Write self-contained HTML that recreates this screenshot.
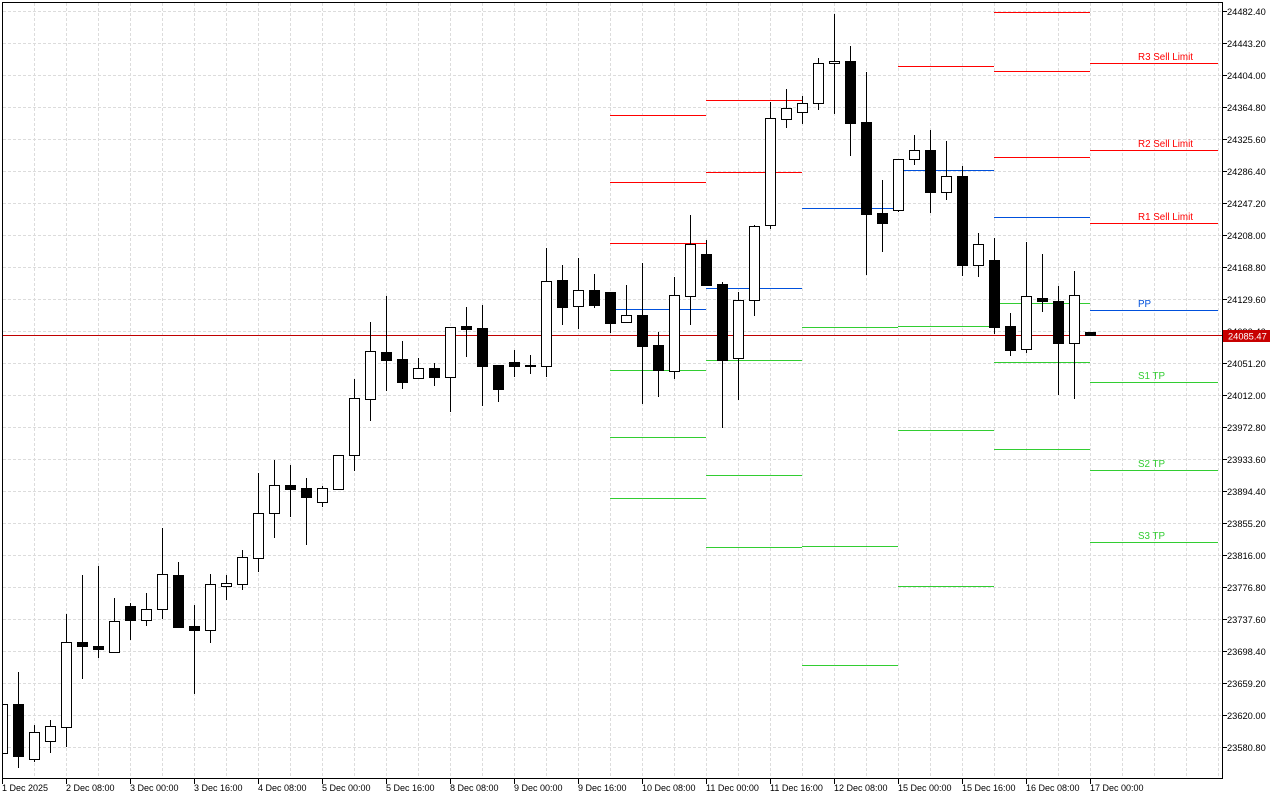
<!DOCTYPE html>
<html><head><meta charset="utf-8"><style>
html,body{margin:0;padding:0;background:#fff;width:1280px;height:800px;overflow:hidden}
svg{display:block}
text{font-family:"Liberation Sans",sans-serif}
.g line{stroke:#dcdcdc;stroke-width:1;stroke-dasharray:3,2}
.c line{stroke:#000;stroke-width:1}
.c rect{stroke:#000;stroke-width:1}
.w{fill:#fff}.b{fill:#000}
.r{stroke:#ff0000;stroke-width:1}
.p{stroke:#0050dc;stroke-width:1}
.s{stroke:#32cd32;stroke-width:1}
.ax text{font-size:9.3px;fill:#000}
.tx text{font-size:9px;fill:#000}
</style></head><body>
<svg width="1280" height="800" viewBox="0 0 1280 800" xmlns="http://www.w3.org/2000/svg">
<rect x="0" y="0" width="1280" height="800" fill="#fff"/>
<defs><clipPath id="pa"><rect x="2" y="2" width="1220" height="776"/></clipPath></defs>
<g class="g">
<line x1="3" y1="11.5" x2="1222" y2="11.5"/><line x1="3" y1="43.5" x2="1222" y2="43.5"/><line x1="3" y1="75.5" x2="1222" y2="75.5"/><line x1="3" y1="107.5" x2="1222" y2="107.5"/><line x1="3" y1="139.5" x2="1222" y2="139.5"/><line x1="3" y1="171.5" x2="1222" y2="171.5"/><line x1="3" y1="203.5" x2="1222" y2="203.5"/><line x1="3" y1="235.5" x2="1222" y2="235.5"/><line x1="3" y1="267.5" x2="1222" y2="267.5"/><line x1="3" y1="299.5" x2="1222" y2="299.5"/><line x1="3" y1="331.5" x2="1222" y2="331.5"/><line x1="3" y1="363.5" x2="1222" y2="363.5"/><line x1="3" y1="395.5" x2="1222" y2="395.5"/><line x1="3" y1="427.5" x2="1222" y2="427.5"/><line x1="3" y1="459.5" x2="1222" y2="459.5"/><line x1="3" y1="491.5" x2="1222" y2="491.5"/><line x1="3" y1="523.5" x2="1222" y2="523.5"/><line x1="3" y1="555.5" x2="1222" y2="555.5"/><line x1="3" y1="587.5" x2="1222" y2="587.5"/><line x1="3" y1="619.5" x2="1222" y2="619.5"/><line x1="3" y1="651.5" x2="1222" y2="651.5"/><line x1="3" y1="683.5" x2="1222" y2="683.5"/><line x1="3" y1="715.5" x2="1222" y2="715.5"/><line x1="3" y1="747.5" x2="1222" y2="747.5"/>
<line x1="34.5" y1="3" x2="34.5" y2="778"/><line x1="66.5" y1="3" x2="66.5" y2="778"/><line x1="98.5" y1="3" x2="98.5" y2="778"/><line x1="130.5" y1="3" x2="130.5" y2="778"/><line x1="162.5" y1="3" x2="162.5" y2="778"/><line x1="194.5" y1="3" x2="194.5" y2="778"/><line x1="226.5" y1="3" x2="226.5" y2="778"/><line x1="258.5" y1="3" x2="258.5" y2="778"/><line x1="290.5" y1="3" x2="290.5" y2="778"/><line x1="322.5" y1="3" x2="322.5" y2="778"/><line x1="354.5" y1="3" x2="354.5" y2="778"/><line x1="386.5" y1="3" x2="386.5" y2="778"/><line x1="418.5" y1="3" x2="418.5" y2="778"/><line x1="450.5" y1="3" x2="450.5" y2="778"/><line x1="482.5" y1="3" x2="482.5" y2="778"/><line x1="514.5" y1="3" x2="514.5" y2="778"/><line x1="546.5" y1="3" x2="546.5" y2="778"/><line x1="578.5" y1="3" x2="578.5" y2="778"/><line x1="610.5" y1="3" x2="610.5" y2="778"/><line x1="642.5" y1="3" x2="642.5" y2="778"/><line x1="674.5" y1="3" x2="674.5" y2="778"/><line x1="706.5" y1="3" x2="706.5" y2="778"/><line x1="738.5" y1="3" x2="738.5" y2="778"/><line x1="770.5" y1="3" x2="770.5" y2="778"/><line x1="802.5" y1="3" x2="802.5" y2="778"/><line x1="834.5" y1="3" x2="834.5" y2="778"/><line x1="866.5" y1="3" x2="866.5" y2="778"/><line x1="898.5" y1="3" x2="898.5" y2="778"/><line x1="930.5" y1="3" x2="930.5" y2="778"/><line x1="962.5" y1="3" x2="962.5" y2="778"/><line x1="994.5" y1="3" x2="994.5" y2="778"/><line x1="1026.5" y1="3" x2="1026.5" y2="778"/><line x1="1058.5" y1="3" x2="1058.5" y2="778"/><line x1="1090.5" y1="3" x2="1090.5" y2="778"/><line x1="1122.5" y1="3" x2="1122.5" y2="778"/><line x1="1154.5" y1="3" x2="1154.5" y2="778"/><line x1="1186.5" y1="3" x2="1186.5" y2="778"/><line x1="1218.5" y1="3" x2="1218.5" y2="778"/>
</g>
<!-- pivot lines -->
<g>
<line class="r" x1="610" y1="115.5" x2="706" y2="115.5"/><line class="r" x1="610" y1="182.5" x2="706" y2="182.5"/><line class="r" x1="610" y1="243.5" x2="706" y2="243.5"/><line class="p" x1="610" y1="309.5" x2="706" y2="309.5"/><line class="s" x1="610" y1="370.5" x2="706" y2="370.5"/><line class="s" x1="610" y1="437.5" x2="706" y2="437.5"/><line class="s" x1="610" y1="498.5" x2="706" y2="498.5"/>
<line class="r" x1="706" y1="100.5" x2="802" y2="100.5"/><line class="r" x1="706" y1="172.5" x2="802" y2="172.5"/><line class="p" x1="706" y1="288.5" x2="802" y2="288.5"/><line class="s" x1="706" y1="360.5" x2="802" y2="360.5"/><line class="s" x1="706" y1="475.5" x2="802" y2="475.5"/><line class="s" x1="706" y1="547.5" x2="802" y2="547.5"/>
<line class="p" x1="802" y1="208.5" x2="898" y2="208.5"/><line class="s" x1="802" y1="327.5" x2="898" y2="327.5"/><line class="s" x1="802" y1="546.5" x2="898" y2="546.5"/><line class="s" x1="802" y1="665.5" x2="898" y2="665.5"/>
<line class="r" x1="898" y1="66.5" x2="994" y2="66.5"/><line class="p" x1="898" y1="170.5" x2="994" y2="170.5"/><line class="s" x1="898" y1="326.5" x2="994" y2="326.5"/><line class="s" x1="898" y1="430.5" x2="994" y2="430.5"/><line class="s" x1="898" y1="586.5" x2="994" y2="586.5"/>
<line class="r" x1="994" y1="12.5" x2="1090" y2="12.5"/><line class="r" x1="994" y1="71.5" x2="1090" y2="71.5"/><line class="r" x1="994" y1="157.5" x2="1090" y2="157.5"/><line class="p" x1="994" y1="217.5" x2="1090" y2="217.5"/><line class="s" x1="994" y1="303.5" x2="1090" y2="303.5"/><line class="s" x1="994" y1="362.5" x2="1090" y2="362.5"/><line class="s" x1="994" y1="449.5" x2="1090" y2="449.5"/>
<line class="r" x1="1090" y1="63.5" x2="1218" y2="63.5"/><line class="r" x1="1090" y1="150.5" x2="1218" y2="150.5"/><line class="r" x1="1090" y1="223.5" x2="1218" y2="223.5"/><line class="p" x1="1090" y1="310.5" x2="1218" y2="310.5"/><line class="s" x1="1090" y1="382.5" x2="1218" y2="382.5"/><line class="s" x1="1090" y1="470.5" x2="1218" y2="470.5"/><line class="s" x1="1090" y1="542.5" x2="1218" y2="542.5"/>
</g>
<g style="font-size:9.8px">
<text x="1138" y="60" fill="#ff0000">R3 Sell Limit</text>
<text x="1138" y="147" fill="#ff0000">R2 Sell Limit</text>
<text x="1138" y="220" fill="#ff0000">R1 Sell Limit</text>
<text x="1138" y="307" fill="#0050dc">PP</text>
<text x="1138" y="379" fill="#32cd32">S1 TP</text>
<text x="1138" y="467" fill="#32cd32">S2 TP</text>
<text x="1138" y="539" fill="#32cd32">S3 TP</text>
</g>
<!-- current price line -->
<line x1="2" y1="335.5" x2="1222" y2="335.5" stroke="#c00000" stroke-width="1"/>
<!-- candles -->
<g class="c" clip-path="url(#pa)">
<rect class="w" x="-2.5" y="704.5" width="10" height="49"/>
<line x1="18.5" y1="672" x2="18.5" y2="768"/><rect class="b" x="13.5" y="704.5" width="10" height="52"/>
<line x1="34.5" y1="725" x2="34.5" y2="762"/><rect class="w" x="29.5" y="732.5" width="10" height="27"/>
<line x1="50.5" y1="720" x2="50.5" y2="753"/><rect class="w" x="45.5" y="726.5" width="10" height="15"/>
<line x1="66.5" y1="614" x2="66.5" y2="747"/><rect class="w" x="61.5" y="642.5" width="10" height="85"/>
<line x1="82.5" y1="575" x2="82.5" y2="679"/><rect class="b" x="77.5" y="642.5" width="10" height="4"/>
<line x1="98.5" y1="566" x2="98.5" y2="658"/><rect class="b" x="93.5" y="646.5" width="10" height="3"/>
<line x1="114.5" y1="598" x2="114.5" y2="653"/><rect class="w" x="109.5" y="621.5" width="10" height="31"/>
<line x1="130.5" y1="603" x2="130.5" y2="640"/><rect class="b" x="125.5" y="606.5" width="10" height="14"/>
<line x1="146.5" y1="593" x2="146.5" y2="626"/><rect class="w" x="141.5" y="609.5" width="10" height="11"/>
<line x1="162.5" y1="528" x2="162.5" y2="619"/><rect class="w" x="157.5" y="574.5" width="10" height="35"/>
<line x1="178.5" y1="562" x2="178.5" y2="628"/><rect class="b" x="173.5" y="575.5" width="10" height="52"/>
<line x1="194.5" y1="605" x2="194.5" y2="694"/><rect class="b" x="189.5" y="626.5" width="10" height="4"/>
<line x1="210.5" y1="574" x2="210.5" y2="643"/><rect class="w" x="205.5" y="584.5" width="10" height="46"/>
<line x1="226.5" y1="575" x2="226.5" y2="600"/><rect class="w" x="221.5" y="583.5" width="10" height="3"/>
<line x1="242.5" y1="550" x2="242.5" y2="590"/><rect class="w" x="237.5" y="557.5" width="10" height="27"/>
<line x1="258.5" y1="473" x2="258.5" y2="572"/><rect class="w" x="253.5" y="513.5" width="10" height="45"/>
<line x1="274.5" y1="460" x2="274.5" y2="538"/><rect class="w" x="269.5" y="485.5" width="10" height="28"/>
<line x1="290.5" y1="465" x2="290.5" y2="517"/><rect class="b" x="285.5" y="485.5" width="10" height="4"/>
<line x1="306.5" y1="478" x2="306.5" y2="545"/><rect class="b" x="301.5" y="488.5" width="10" height="9"/>
<line x1="322.5" y1="486" x2="322.5" y2="507"/><rect class="w" x="317.5" y="488.5" width="10" height="14"/>
<line x1="338.5" y1="455" x2="338.5" y2="490"/><rect class="w" x="333.5" y="455.5" width="10" height="34"/>
<line x1="354.5" y1="379" x2="354.5" y2="471"/><rect class="w" x="349.5" y="398.5" width="10" height="57"/>
<line x1="370.5" y1="322" x2="370.5" y2="421"/><rect class="w" x="365.5" y="351.5" width="10" height="48"/>
<line x1="386.5" y1="296" x2="386.5" y2="391"/><rect class="b" x="381.5" y="352.5" width="10" height="8"/>
<line x1="402.5" y1="341" x2="402.5" y2="389"/><rect class="b" x="397.5" y="359.5" width="10" height="23"/>
<line x1="418.5" y1="358" x2="418.5" y2="378"/><rect class="w" x="413.5" y="368.5" width="10" height="10"/>
<line x1="434.5" y1="363" x2="434.5" y2="386"/><rect class="b" x="429.5" y="368.5" width="10" height="9"/>
<line x1="450.5" y1="327" x2="450.5" y2="412"/><rect class="w" x="445.5" y="327.5" width="10" height="50"/>
<line x1="466.5" y1="307" x2="466.5" y2="357"/><rect class="b" x="461.5" y="326.5" width="10" height="3"/>
<line x1="482.5" y1="305" x2="482.5" y2="406"/><rect class="b" x="477.5" y="328.5" width="10" height="38"/>
<line x1="498.5" y1="365" x2="498.5" y2="402"/><rect class="b" x="493.5" y="365.5" width="10" height="24"/>
<line x1="514.5" y1="350" x2="514.5" y2="377"/><rect class="b" x="509.5" y="362.5" width="10" height="4"/>
<line x1="530.5" y1="355" x2="530.5" y2="374"/><rect class="b" x="525.5" y="365.5" width="10" height="1"/>
<line x1="546.5" y1="248" x2="546.5" y2="377"/><rect class="w" x="541.5" y="281.5" width="10" height="85"/>
<line x1="562.5" y1="265" x2="562.5" y2="325"/><rect class="b" x="557.5" y="280.5" width="10" height="27"/>
<line x1="578.5" y1="258" x2="578.5" y2="329"/><rect class="w" x="573.5" y="290.5" width="10" height="16"/>
<line x1="594.5" y1="274" x2="594.5" y2="308"/><rect class="b" x="589.5" y="290.5" width="10" height="15"/>
<line x1="610.5" y1="292" x2="610.5" y2="333"/><rect class="b" x="605.5" y="292.5" width="10" height="31"/>
<line x1="626.5" y1="285" x2="626.5" y2="322"/><rect class="w" x="621.5" y="315.5" width="10" height="7"/>
<line x1="642.5" y1="263" x2="642.5" y2="404"/><rect class="b" x="637.5" y="315.5" width="10" height="31"/>
<line x1="658.5" y1="332" x2="658.5" y2="397"/><rect class="b" x="653.5" y="345.5" width="10" height="25"/>
<line x1="674.5" y1="277" x2="674.5" y2="379"/><rect class="w" x="669.5" y="295.5" width="10" height="76"/>
<line x1="690.5" y1="215" x2="690.5" y2="325"/><rect class="w" x="685.5" y="244.5" width="10" height="52"/>
<line x1="706.5" y1="240" x2="706.5" y2="285"/><rect class="b" x="701.5" y="254.5" width="10" height="31"/>
<line x1="722.5" y1="282" x2="722.5" y2="428"/><rect class="b" x="717.5" y="284.5" width="10" height="76"/>
<line x1="738.5" y1="292" x2="738.5" y2="400"/><rect class="w" x="733.5" y="300.5" width="10" height="58"/>
<line x1="754.5" y1="225" x2="754.5" y2="316"/><rect class="w" x="749.5" y="226.5" width="10" height="74"/>
<line x1="770.5" y1="102" x2="770.5" y2="229"/><rect class="w" x="765.5" y="118.5" width="10" height="107"/>
<line x1="786.5" y1="89" x2="786.5" y2="128"/><rect class="w" x="781.5" y="108.5" width="10" height="11"/>
<line x1="802.5" y1="96" x2="802.5" y2="124"/><rect class="w" x="797.5" y="103.5" width="10" height="9"/>
<line x1="818.5" y1="58" x2="818.5" y2="110"/><rect class="w" x="813.5" y="63.5" width="10" height="40"/>
<line x1="834.5" y1="14" x2="834.5" y2="114"/><rect class="w" x="829.5" y="61.5" width="10" height="2"/>
<line x1="850.5" y1="46" x2="850.5" y2="156"/><rect class="b" x="845.5" y="61.5" width="10" height="62"/>
<line x1="866.5" y1="72" x2="866.5" y2="275"/><rect class="b" x="861.5" y="122.5" width="10" height="92"/>
<line x1="882.5" y1="180" x2="882.5" y2="252"/><rect class="b" x="877.5" y="213.5" width="10" height="10"/>
<line x1="898.5" y1="159" x2="898.5" y2="212"/><rect class="w" x="893.5" y="159.5" width="10" height="51"/>
<line x1="914.5" y1="135" x2="914.5" y2="165"/><rect class="w" x="909.5" y="150.5" width="10" height="9"/>
<line x1="930.5" y1="130" x2="930.5" y2="213"/><rect class="b" x="925.5" y="150.5" width="10" height="42"/>
<line x1="946.5" y1="141" x2="946.5" y2="200"/><rect class="w" x="941.5" y="176.5" width="10" height="16"/>
<line x1="962.5" y1="166" x2="962.5" y2="276"/><rect class="b" x="957.5" y="176.5" width="10" height="89"/>
<line x1="978.5" y1="233" x2="978.5" y2="277"/><rect class="w" x="973.5" y="244.5" width="10" height="21"/>
<line x1="994.5" y1="238" x2="994.5" y2="334"/><rect class="b" x="989.5" y="260.5" width="10" height="67"/>
<line x1="1010.5" y1="313" x2="1010.5" y2="356"/><rect class="b" x="1005.5" y="326.5" width="10" height="24"/>
<line x1="1026.5" y1="242" x2="1026.5" y2="353"/><rect class="w" x="1021.5" y="296.5" width="10" height="53"/>
<line x1="1042.5" y1="254" x2="1042.5" y2="312"/><rect class="b" x="1037.5" y="298.5" width="10" height="3"/>
<line x1="1058.5" y1="286" x2="1058.5" y2="395"/><rect class="b" x="1053.5" y="301.5" width="10" height="42"/>
<line x1="1074.5" y1="271" x2="1074.5" y2="399"/><rect class="w" x="1069.5" y="295.5" width="10" height="48"/>
<rect class="b" x="1085.5" y="332.5" width="10" height="3"/>
</g>
<!-- frame -->
<rect x="2.5" y="2.5" width="1220" height="776" fill="none" stroke="#000" stroke-width="1"/>
<!-- axis ticks -->
<g stroke="#000" stroke-width="1">
<line x1="1222" y1="11.5" x2="1227" y2="11.5"/><line x1="1222" y1="43.5" x2="1227" y2="43.5"/><line x1="1222" y1="75.5" x2="1227" y2="75.5"/><line x1="1222" y1="107.5" x2="1227" y2="107.5"/><line x1="1222" y1="139.5" x2="1227" y2="139.5"/><line x1="1222" y1="171.5" x2="1227" y2="171.5"/><line x1="1222" y1="203.5" x2="1227" y2="203.5"/><line x1="1222" y1="235.5" x2="1227" y2="235.5"/><line x1="1222" y1="267.5" x2="1227" y2="267.5"/><line x1="1222" y1="299.5" x2="1227" y2="299.5"/><line x1="1222" y1="331.5" x2="1227" y2="331.5"/><line x1="1222" y1="363.5" x2="1227" y2="363.5"/><line x1="1222" y1="395.5" x2="1227" y2="395.5"/><line x1="1222" y1="427.5" x2="1227" y2="427.5"/><line x1="1222" y1="459.5" x2="1227" y2="459.5"/><line x1="1222" y1="491.5" x2="1227" y2="491.5"/><line x1="1222" y1="523.5" x2="1227" y2="523.5"/><line x1="1222" y1="555.5" x2="1227" y2="555.5"/><line x1="1222" y1="587.5" x2="1227" y2="587.5"/><line x1="1222" y1="619.5" x2="1227" y2="619.5"/><line x1="1222" y1="651.5" x2="1227" y2="651.5"/><line x1="1222" y1="683.5" x2="1227" y2="683.5"/><line x1="1222" y1="715.5" x2="1227" y2="715.5"/><line x1="1222" y1="747.5" x2="1227" y2="747.5"/>
<line x1="2.5" y1="778" x2="2.5" y2="784"/><line x1="66.5" y1="778" x2="66.5" y2="784"/><line x1="130.5" y1="778" x2="130.5" y2="784"/><line x1="194.5" y1="778" x2="194.5" y2="784"/><line x1="258.5" y1="778" x2="258.5" y2="784"/><line x1="322.5" y1="778" x2="322.5" y2="784"/><line x1="386.5" y1="778" x2="386.5" y2="784"/><line x1="450.5" y1="778" x2="450.5" y2="784"/><line x1="514.5" y1="778" x2="514.5" y2="784"/><line x1="578.5" y1="778" x2="578.5" y2="784"/><line x1="642.5" y1="778" x2="642.5" y2="784"/><line x1="706.5" y1="778" x2="706.5" y2="784"/><line x1="770.5" y1="778" x2="770.5" y2="784"/><line x1="834.5" y1="778" x2="834.5" y2="784"/><line x1="898.5" y1="778" x2="898.5" y2="784"/><line x1="962.5" y1="778" x2="962.5" y2="784"/><line x1="1026.5" y1="778" x2="1026.5" y2="784"/><line x1="1090.5" y1="778" x2="1090.5" y2="784"/>
</g>
<g class="ax">
<text x="1227" y="15">24482.40</text><text x="1227" y="47">24443.20</text><text x="1227" y="79">24404.00</text><text x="1227" y="111">24364.80</text><text x="1227" y="143">24325.60</text><text x="1227" y="175">24286.40</text><text x="1227" y="207">24247.20</text><text x="1227" y="239">24208.00</text><text x="1227" y="271">24168.80</text><text x="1227" y="303">24129.60</text><text x="1227" y="335">24090.40</text><text x="1227" y="367">24051.20</text><text x="1227" y="399">24012.00</text><text x="1227" y="431">23972.80</text><text x="1227" y="463">23933.60</text><text x="1227" y="495">23894.40</text><text x="1227" y="527">23855.20</text><text x="1227" y="559">23816.00</text><text x="1227" y="591">23776.80</text><text x="1227" y="623">23737.60</text><text x="1227" y="655">23698.40</text><text x="1227" y="687">23659.20</text><text x="1227" y="719">23620.00</text><text x="1227" y="751">23580.80</text>
</g>
<rect x="1223" y="330" width="47" height="12" fill="#c80000"/>
<text x="1228" y="339.5" style="font-size:9.3px" fill="#fff">24085.47</text>
<g class="tx">
<text x="2" y="791">1 Dec 2025</text><text x="66" y="791">2 Dec 08:00</text><text x="130" y="791">3 Dec 00:00</text><text x="194" y="791">3 Dec 16:00</text><text x="258" y="791">4 Dec 08:00</text><text x="322" y="791">5 Dec 00:00</text><text x="386" y="791">5 Dec 16:00</text><text x="450" y="791">8 Dec 08:00</text><text x="514" y="791">9 Dec 00:00</text><text x="578" y="791">9 Dec 16:00</text><text x="642" y="791">10 Dec 08:00</text><text x="706" y="791">11 Dec 00:00</text><text x="770" y="791">11 Dec 16:00</text><text x="834" y="791">12 Dec 08:00</text><text x="898" y="791">15 Dec 00:00</text><text x="962" y="791">15 Dec 16:00</text><text x="1026" y="791">16 Dec 08:00</text><text x="1090" y="791">17 Dec 00:00</text>
</g>
</svg>
</body></html>
